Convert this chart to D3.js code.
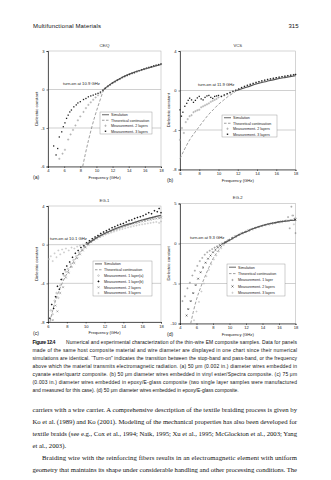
<!DOCTYPE html>
<html><head><meta charset="utf-8">
<script src="https://cdn.jsdelivr.net/npm/d3@7"></script>
<style>body{margin:0;background:#fff}svg{display:block}</style>
</head><body>
<svg id="page" width="331" height="480"></svg>
<script>
// ---------- DATA ----------
const panelTitles = ["CE/Q", "VCS", "EG-1", "EG-2"];
const panelLetters = ["(a)", "(b)", "(c)", "(d)"];
const turnOnLabels = ["turn-on at 10.9 GHz", "turn-on at 11.9 GHz", "turn-on at 10.1 GHz", "turn-on at 9.3 GHz"];
const xTicksA = [4, 6, 8, 10, 12, 14, 16, 18];
const yTicksA = [-6, -3, 0, 3];
const xTicksB = [6, 8, 10, 12, 14, 16, 18];
const yTicksB = [-8, -4, 0, 4];
const xTicksC = [6, 8, 10, 12, 14, 16, 18];
const yTicksC = [-8, -4, 0, 4];
const xTicksD = [4, 6, 8, 10, 12, 14, 16, 18];
const yTicksD = [-10, -5, 0, 5];
const legendAB = ["Simulation", "Theoretical continuation", "Measurement- 2 layers", "Measurement- 3 layers"];
const legendC = ["Simulation", "Theoretical continuation", "Measurement- 1 layer(a)", "Measurement- 1 layer(b)", "Measurement- 2 layers", "Measurement- 3 layers"];
const legendD = ["Simulation", "Theoretical continuation", "Measurement- 1 layer", "Measurement- 2 layers", "Measurement- 3 layers"];

// Panel (a) CE/Q  [frequency GHz, dielectric constant]
const simA = [[10.9,0],[11.5,0.3],[12,0.52],[13,0.88],[14,1.18],[15,1.42],[16,1.6],[17,1.78],[18,1.95]];
const theoA = [[8.3,-6],[8.6,-5.1],[9,-4.0],[9.4,-3.0],[9.8,-2.1],[10.2,-1.3],[10.6,-0.55],[10.9,0]];
const measA2 = [[5.4,-5.4],[5.8,-5.0],[6.1,-4.7],[6.5,-3.9],[6.8,-3.5],[7.1,-3.15],[7.4,-2.8],[7.7,-2.4],[8.0,-2.1],[8.4,-1.75],[8.7,-1.45],[9.0,-1.2],[9.3,-1.0],[9.6,-0.8],[9.9,-0.62],[10.2,-0.45],[10.5,-0.28],[10.8,-0.12],[11.1,0.08],[11.4,0.22],[11.7,0.36],[12.0,0.5],[12.3,0.6],[12.6,0.72],[12.9,0.82],[13.2,0.92],[13.5,1.0],[13.8,1.08],[14.1,1.16],[14.4,1.24],[14.7,1.3],[15.0,1.38],[15.3,1.45],[15.6,1.52],[15.9,1.58],[16.2,1.64],[16.5,1.7],[16.8,1.76],[17.1,1.82],[17.4,1.87],[17.7,1.92],[18.0,1.97]];
const measA3 = [[4.7,-4.4],[5.0,-5.1],[5.2,-4.6],[5.4,-3.7],[5.7,-3.3],[5.9,-2.9],[6.1,-2.6],[6.3,-2.25],[6.5,-2.0],[6.7,-1.75],[6.9,-1.6],[7.2,-1.35],[7.5,-1.2],[7.7,-1.05],[8.0,-0.95],[8.4,-0.78],[8.7,-0.7],[9.0,-0.57],[9.3,-0.5],[9.6,-0.44],[9.9,-0.36],[10.2,-0.3],[10.5,-0.2],[10.8,-0.05],[11.1,0.1],[11.4,0.25],[11.7,0.38],[12.0,0.52],[12.3,0.62],[12.6,0.74],[12.9,0.84],[13.2,0.94],[13.5,1.02],[13.8,1.1],[14.1,1.18],[14.4,1.26],[14.7,1.32],[15.0,1.4],[15.3,1.47],[15.6,1.54],[15.9,1.6],[16.2,1.66],[16.5,1.72],[16.8,1.78],[17.1,1.84],[17.4,1.89],[17.7,1.94],[18.0,1.99]];

// Panel (b) VCS
const simB = [[11.9,0],[12.5,0.2],[13,0.36],[14,0.68],[15,0.92],[16,1.15],[17,1.33],[18,1.5]];
const theoB = [[6,-6.9],[6.5,-5.9],[7,-5.0],[7.5,-4.3],[8,-3.65],[8.5,-3.0],[9,-2.4],[9.5,-1.9],[10,-1.4],[10.5,-1.0],[11,-0.6],[11.5,-0.28],[11.9,0]];
const measB2 = [[6.0,-5.0],[6.2,-3.8],[6.4,-4.3],[6.6,-3.2],[6.8,-2.9],[7.0,-2.6],[7.2,-2.5],[7.4,-2.2],[7.6,-2.1],[7.8,-2.0],[8.0,-1.95],[8.2,-1.7],[8.4,-1.6],[8.6,-1.5],[8.8,-1.4],[9.0,-1.3],[9.2,-1.15],[9.4,-1.05],[9.6,-0.95],[9.8,-0.85],[10.0,-0.7],[10.3,-0.6],[10.6,-0.5],[10.9,-0.38],[11.2,-0.25],[11.5,-0.12],[11.8,0.0],[12.1,0.12],[12.4,0.25],[12.7,0.36],[13.0,0.46],[13.3,0.56],[13.6,0.66],[13.9,0.75],[14.2,0.84],[14.5,0.92],[14.8,1.0],[15.1,1.07],[15.4,1.14],[15.7,1.2],[16.0,1.26],[16.3,1.32],[16.6,1.38],[16.9,1.43],[17.2,1.48],[17.5,1.53],[17.8,1.58],[18.0,1.62]];
const measB3 = [[6.0,-1.96],[6.15,-2.6],[6.3,-2.2],[6.5,-1.6],[6.7,-1.3],[6.85,-1.0],[7.0,-0.78],[7.2,-0.95],[7.4,-1.2],[7.6,-1.0],[7.8,-0.75],[8.0,-0.6],[8.2,-0.85],[8.4,-0.95],[8.6,-0.7],[8.8,-0.55],[9.0,-0.5],[9.2,-0.7],[9.4,-0.8],[9.6,-0.6],[9.8,-0.55],[10.0,-0.5],[10.3,-0.6],[10.6,-0.45],[10.9,-0.32],[11.2,-0.2],[11.5,-0.08],[11.8,0.03],[12.1,0.15],[12.4,0.3],[12.7,0.42],[13.0,0.53],[13.3,0.63],[13.6,0.72],[13.9,0.82],[14.2,0.9],[14.5,0.98],[14.8,1.05],[15.1,1.12],[15.4,1.18],[15.7,1.24],[16.0,1.3],[16.3,1.35],[16.6,1.4],[16.9,1.45],[17.2,1.5],[17.5,1.55],[17.8,1.59],[18.0,1.62]];

// Panel (c) EG-1
const simC = [[10.1,0],[10.5,0.3],[11,0.62],[12,1.15],[13,1.6],[14,1.95],[15,2.25],[16,2.55],[17,2.8],[18,3.05]];
const theoC = [[6.2,-8],[6.5,-6.8],[7,-5.2],[7.5,-4.0],[8,-3.0],[8.5,-2.1],[9,-1.35],[9.5,-0.7],[10.1,0]];
const measC1a = [[6.3,-6.8],[6.5,-7.2],[6.7,-5.8],[6.9,-5.0],[7.1,-5.5],[7.3,-4.2],[7.5,-3.6],[7.7,-3.2],[7.9,-2.8],[8.1,-2.5],[8.4,-2.0],[8.7,-1.6],[9.0,-1.2],[9.3,-0.8],[9.6,-0.5],[9.9,-0.2],[10.2,0.05],[10.5,0.3],[10.8,0.5],[11.1,0.7],[11.4,0.85],[11.7,1.0],[12.0,1.15],[12.3,1.3],[12.6,1.42],[12.9,1.55],[13.2,1.65],[13.5,1.78],[13.8,1.88],[14.1,1.98],[14.4,2.08],[14.7,2.18],[15.0,2.25],[15.3,2.35],[15.6,2.42],[15.9,2.5],[16.2,2.58],[16.5,2.65],[16.8,2.72],[17.1,2.78],[17.4,2.85],[17.7,2.9],[18.0,2.95]];
const measC1b = [[6.2,-7.6],[6.4,-6.2],[6.6,-6.6],[6.8,-5.4],[7.0,-4.3],[7.2,-4.6],[7.4,-3.6],[7.6,-3.0],[7.8,-2.6],[8.0,-2.2],[8.3,-1.8],[8.6,-1.3],[8.9,-0.9],[9.2,-0.6],[9.5,-0.3],[9.8,-0.1],[10.1,0.2],[10.4,0.4],[10.7,0.6],[11.0,0.8],[11.3,0.95],[11.6,1.15],[11.9,1.3],[12.2,1.45],[12.5,1.6],[12.8,1.75],[13.1,1.85],[13.4,2.0],[13.7,2.1],[14.0,2.2],[14.3,2.35],[14.6,2.5],[14.9,2.55],[15.2,2.7],[15.5,2.8],[15.8,2.9],[16.1,3.0],[16.4,3.15],[16.7,3.3],[17.0,3.2],[17.3,3.5],[17.6,3.4],[17.8,3.75],[18.0,3.3]];
const measC2 = [[6.5,-7.8],[6.8,-6.3],[7.0,-6.9],[7.3,-5.0],[7.6,-4.4],[7.9,-3.4],[8.2,-2.9],[8.5,-2.3],[8.8,-1.9],[9.1,-1.4],[9.4,-1.0],[9.7,-0.6],[10.0,-0.3],[10.3,0.0],[10.6,0.25],[10.9,0.45],[11.2,0.62],[11.5,0.8],[11.8,0.95],[12.1,1.1],[12.4,1.25],[12.7,1.38],[13.0,1.5],[13.3,1.62],[13.6,1.72],[13.9,1.82],[14.2,1.92],[14.5,2.0],[14.8,2.1],[15.1,2.18],[15.4,2.25],[15.7,2.32],[16.0,2.4],[16.3,2.46],[16.6,2.52],[16.9,2.58],[17.2,2.64],[17.5,2.7],[17.8,2.75],[18.0,2.8]];
const measC3 = [[6.1,-1.5],[6.3,-1.2],[6.5,-1.7],[6.7,-0.9],[6.9,-1.3],[7.1,-0.6],[7.3,-1.0],[7.5,-0.5],[7.7,-0.8],[7.9,-0.4],[8.2,-0.6],[8.5,-0.3],[8.8,-0.4],[9.1,-0.2],[9.4,-0.1],[9.7,0.0],[10.0,0.1],[10.3,0.25],[10.6,0.4],[10.9,0.55],[11.2,0.7],[11.5,0.82],[11.8,0.95],[12.1,1.05],[12.4,1.15],[12.7,1.25],[13.0,1.35],[13.3,1.45],[13.6,1.55],[13.9,1.62],[14.2,1.7],[14.5,1.78],[14.8,1.85],[15.1,1.92],[15.4,1.98],[15.7,2.05],[16.0,2.1],[16.3,2.15],[16.6,2.2],[16.9,2.25],[17.2,2.3],[17.5,2.35],[17.8,2.25],[18.0,2.4]];

// Panel (d) EG-2
const simD = [[9.3,0],[10,0.4],[11,1.0],[12,1.46],[13,1.9],[14,2.25],[15,2.5],[16,2.7],[17,2.82],[18,2.9]];
const theoD = [[5.3,-10],[5.6,-8.6],[6,-7.0],[6.5,-5.5],[7,-4.2],[7.5,-3.0],[8,-1.9],[8.5,-1.1],[9,-0.4],[9.3,0]];
const measD1 = [[4.3,-7.2],[4.6,-6.6],[4.9,-5.6],[5.2,-4.9],[5.5,-4.0],[5.8,-3.4],[6.1,-2.8],[6.4,-2.2],[6.7,-1.8],[7.0,-1.4],[7.3,-1.1],[7.6,-0.9],[7.9,-0.7],[8.2,-0.5],[8.5,-0.35],[8.8,-0.2],[9.1,-0.05],[9.4,0.1],[9.7,0.3],[10.0,0.5],[10.4,0.75],[10.8,0.95],[11.2,1.15],[11.6,1.35],[12.0,1.52],[12.4,1.7],[12.8,1.85],[13.2,2.0],[13.6,2.12],[14.0,2.25],[14.4,2.35],[14.8,2.45],[15.2,2.55],[15.6,2.62],[16.0,2.7],[16.4,2.78],[16.8,2.85],[17.1,3.3],[17.3,1.9],[17.5,4.6],[17.7,3.5],[17.9,3.1],[18.0,1.3]];
const measD2 = [[4.8,-9.0],[5.0,-8.2],[5.3,-7.2],[5.6,-6.2],[5.9,-5.2],[6.2,-4.4],[6.5,-3.6],[6.8,-3.0],[7.1,-2.4],[7.4,-1.9],[7.7,-1.5],[8.0,-1.1],[8.3,-0.8],[8.6,-0.5],[8.9,-0.25],[9.2,0.0],[9.5,0.2],[9.9,0.42],[10.3,0.65],[10.7,0.88],[11.1,1.08],[11.5,1.28],[11.9,1.45],[12.3,1.62],[12.7,1.78],[13.1,1.93],[13.5,2.06],[13.9,2.18],[14.3,2.3],[14.7,2.4],[15.1,2.5],[15.5,2.58],[15.9,2.66],[16.3,2.73],[16.7,2.8],[17.1,2.86],[17.5,2.92],[17.9,2.97],[18.0,3.0]];
const measD3 = [[5.7,-9.6],[6.0,-8.5],[6.3,-7.3],[6.6,-6.0],[6.9,-5.0],[7.2,-4.1],[7.5,-3.3],[7.8,-2.6],[8.1,-2.0],[8.4,-1.5],[8.7,-1.0],[9.0,-0.6],[9.3,-0.2],[9.6,0.1],[10.0,0.35],[10.4,0.6],[10.8,0.85],[11.2,1.05],[11.6,1.25],[12.0,1.42],[12.4,1.6],[12.8,1.76],[13.2,1.9],[13.6,2.03],[14.0,2.15],[14.4,2.27],[14.8,2.37],[15.2,2.47],[15.6,2.55],[16.0,2.63],[16.4,2.7],[16.8,2.77],[17.2,2.83],[17.6,3.5],[17.8,2.4],[18.0,3.2]];

// Page text
const headerLeft = "Multifunctional Materials";
const headerRight = "315";
const captionLabel = "Figure 12.4";
const captionLines = [
  "Numerical and experimental characterization of the thin-wire EM composite samples. Data for panels",
  "made of the same host composite material and wire diameter are displayed in one chart since their numerical",
  "simulations are identical. \u201CTurn-on\u201D indicates the transition between the stop-band and pass-band, or the frequency",
  "above which the material transmits electromagnetic radiation. (a) 50 \u03BCm (0.002 in.) diameter wires embedded in",
  "cyanate ester/quartz composite. (b) 50 \u03BCm diameter wires embedded in vinyl ester/Spectra composite. (c) 75 \u03BCm",
  "(0.003 in.) diameter wires embedded in epoxy/E-glass composite (two single layer samples were manufactured",
  "and measured for this case). (d) 50 \u03BCm diameter wires embedded in epoxy/E-glass composite."
];
const bodyLines = [
  "carriers with a wire carrier. A comprehensive description of the textile braiding process is given by",
  "Ko et al. (1989) and Ko (2001). Modeling of the mechanical properties has also been developed for",
  "textile braids (see e.g., Cox et al., 1994; Naik, 1995; Xu et al., 1995; McGlockton et al., 2003; Yang",
  "et al., 2003).",
  "Braiding wire with the reinforcing fibers results in an electromagnetic element with uniform",
  "geometry that maintains its shape under considerable handling and other processing conditions. The"
];

// ---------- DRAWING ----------
const svg = d3.select("#page");
const SANS = "'Liberation Sans', Arial, sans-serif";
const SERIF = "'Liberation Serif', 'Times New Roman', serif";

function markerPath(type, s) {
  if (type === "plus") return `M${-s},0H${s}M0,${-s}V${s}`;
  if (type === "x") return `M${-s},${-s}L${s},${s}M${-s},${s}L${s},${-s}`;
  return null;
}
function drawMarker(g, type, cx, cy, color, s) {
  if (type === "plus" || type === "x") {
    g.append("path").attr("transform", `translate(${cx},${cy})`).attr("d", markerPath(type, s))
      .attr("stroke", color).attr("stroke-width", 0.55).attr("fill", "none");
  } else if (type === "dot") {
    g.append("rect").attr("x", cx - s * 0.65).attr("y", cy - s * 0.65).attr("width", s * 1.3).attr("height", s * 1.3).attr("fill", color);
  } else if (type === "circle") {
    g.append("circle").attr("cx", cx).attr("cy", cy).attr("r", s * 0.75).attr("fill", "none").attr("stroke", color).attr("stroke-width", 0.4);
  } else if (type === "diamond") {
    g.append("path").attr("transform", `translate(${cx},${cy})`).attr("d", `M0,${-s}L${s},0L0,${s}L${-s},0Z`).attr("fill", color);
  }
}

function panel(cfg) {
  const g = svg.append("g");
  const x = d3.scaleLinear().domain(cfg.xDom).range([cfg.left, cfg.right]);
  const y = d3.scaleLinear().domain(cfg.yDom).range([cfg.bottom, cfg.top]);
  g.append("rect").attr("x", cfg.left).attr("y", cfg.top).attr("width", cfg.right - cfg.left)
    .attr("height", cfg.bottom - cfg.top).attr("fill", "none").attr("stroke", "#aaa").attr("stroke-width", 0.5);
  g.selectAll("line.grid").data(cfg.yTicks.filter(v => v > cfg.yDom[0] && v < cfg.yDom[1])).join("line")
    .attr("x1", cfg.left).attr("x2", cfg.right).attr("y1", d => y(d)).attr("y2", d => y(d))
    .attr("stroke", "#b0b0b0").attr("stroke-width", 0.6);
  const ya = g.append("g").attr("transform", `translate(${cfg.left},0)`)
    .call(d3.axisLeft(y).tickValues(cfg.yTicks).tickSize(1.5).tickPadding(2).tickFormat(d => String(d)));
  const xa = g.append("g").attr("transform", `translate(0,${cfg.bottom})`)
    .call(d3.axisBottom(x).tickValues(cfg.xTicks).tickSize(1.5).tickPadding(1.5).tickFormat(d => String(d)));
  [ya, xa].forEach(a => {
    a.select(".domain").attr("stroke", "#000").attr("stroke-width", 0.6);
    a.selectAll(".tick line").attr("stroke", "#000").attr("stroke-width", 0.5);
    a.selectAll("text").attr("font-family", SANS).attr("font-size", 4.1).attr("fill", "#222");
  });
  g.append("text").attr("x", (cfg.left + cfg.right) / 2).attr("y", cfg.top - 4.5).attr("text-anchor", "middle")
    .attr("font-family", SANS).attr("font-size", 4.2).attr("fill", "#333").text(cfg.title);
  g.append("text").attr("x", (cfg.left + cfg.right) / 2).attr("y", cfg.bottom + 12).attr("text-anchor", "middle")
    .attr("font-family", SANS).attr("font-size", 4.2).attr("fill", "#222").text("Frequency (GHz)");
  g.append("text").attr("transform", `translate(${cfg.left - 10},${(cfg.top + cfg.bottom) / 2}) rotate(-90)`)
    .attr("text-anchor", "middle").attr("font-family", SANS).attr("font-size", 4.2).attr("fill", "#222").text("Dielectric constant");
  g.append("text").attr("x", cfg.letterX).attr("y", cfg.bottom + 12.5)
    .attr("font-family", SANS).attr("font-size", 5.2).attr("fill", "#222").text(cfg.letter);
  g.append("text").attr("x", cfg.turnX).attr("y", y(0) - 4.5)
    .attr("font-family", SANS).attr("font-size", 4.2).attr("fill", "#222").text(cfg.turnOn);

  const line = d3.line().x(d => x(d[0])).y(d => y(d[1])).curve(d3.curveMonotoneX);
  const plot = g.append("g");
  plot.append("path").attr("d", line(cfg.theo)).attr("fill", "none").attr("stroke", "#888")
    .attr("stroke-width", 0.8).attr("stroke-dasharray", "3,1.8");
  cfg.meas.forEach(m => {
    const mg = plot.append("g");
    m.data.forEach(d => drawMarker(mg, m.type, x(d[0]), y(d[1]), m.color, m.size));
  });
  plot.append("path").attr("d", line(cfg.sim)).attr("fill", "none").attr("stroke", "#555").attr("stroke-width", 1.1);

  const L = cfg.legend;
  const lg = g.append("g");
  lg.append("rect").attr("x", L.x).attr("y", L.y).attr("width", L.w).attr("height", L.h)
    .attr("fill", "#fff").attr("stroke", "#888").attr("stroke-width", 0.4);
  const rowH = L.h / cfg.legendLabels.length;
  cfg.legendLabels.forEach((lab, i) => {
    const cy = L.y + rowH * (i + 0.5);
    const sx = L.x + 2, ex = L.x + 9;
    if (i === 0) {
      lg.append("line").attr("x1", sx).attr("x2", ex).attr("y1", cy).attr("y2", cy).attr("stroke", "#555").attr("stroke-width", 0.9);
    } else if (i === 1) {
      lg.append("line").attr("x1", sx).attr("x2", ex).attr("y1", cy).attr("y2", cy).attr("stroke", "#888")
        .attr("stroke-width", 0.8).attr("stroke-dasharray", "2.5,1.5");
    } else {
      const m = cfg.meas[i - 2];
      drawMarker(lg, m.type, (sx + ex) / 2, cy, m.color, m.size * 1.1);
    }
    lg.append("text").attr("x", L.x + 11).attr("y", cy + 1.3).attr("font-family", SANS)
      .attr("font-size", 3.6).attr("fill", "#222").text(lab);
  });
}

panel({ left: 48, right: 161, top: 51, bottom: 166.5, xDom: [4, 18], yDom: [-6, 3], xTicks: xTicksA, yTicks: yTicksA,
  title: panelTitles[0], letter: panelLetters[0], letterX: 33, turnOn: turnOnLabels[0], turnX: 63,
  sim: simA, theo: theoA,
  meas: [{ data: measA2, type: "plus", color: "#9a9a9a", size: 1.1 }, { data: measA3, type: "dot", color: "#222", size: 1.0 }],
  legendLabels: legendAB, legend: { x: 100, y: 112, w: 52, h: 22 } });

panel({ left: 180, right: 295.5, top: 51, bottom: 169.5, xDom: [6, 18], yDom: [-8, 4], xTicks: xTicksB, yTicks: yTicksB,
  title: panelTitles[1], letter: panelLetters[1], letterX: 167, turnOn: turnOnLabels[1], turnX: 198,
  sim: simB, theo: theoB,
  meas: [{ data: measB2, type: "plus", color: "#9a9a9a", size: 1.1 }, { data: measB3, type: "dot", color: "#222", size: 1.0 }],
  legendLabels: legendAB, legend: { x: 222, y: 115, w: 55, h: 22 } });

panel({ left: 48, right: 161, top: 206, bottom: 322, xDom: [6, 18], yDom: [-8, 4], xTicks: xTicksC, yTicks: yTicksC,
  title: panelTitles[2], letter: panelLetters[2], letterX: 33, turnOn: turnOnLabels[2], turnX: 50,
  sim: simC, theo: theoC,
  meas: [{ data: measC1a, type: "circle", color: "#888", size: 1.0 }, { data: measC1b, type: "diamond", color: "#111", size: 1.0 },
         { data: measC2, type: "x", color: "#777", size: 0.9 }, { data: measC3, type: "plus", color: "#bbb", size: 1.0 }],
  legendLabels: legendC, legend: { x: 93, y: 261, w: 59, h: 35 } });

panel({ left: 180, right: 295.5, top: 203.5, bottom: 323.5, xDom: [4, 18], yDom: [-10, 5], xTicks: xTicksD, yTicks: yTicksD,
  title: panelTitles[3], letter: panelLetters[3], letterX: 167, turnOn: turnOnLabels[3], turnX: 190,
  sim: simD, theo: theoD,
  meas: [{ data: measD1, type: "plus", color: "#888", size: 1.0 }, { data: measD2, type: "x", color: "#222", size: 0.9 },
         { data: measD3, type: "plus", color: "#bbb", size: 1.0 }],
  legendLabels: legendD, legend: { x: 227, y: 264, w: 58, h: 32 } });

// ---------- PAGE TEXT ----------
svg.append("text").attr("x", 33).attr("y", 27.5).attr("font-family", SANS).attr("font-size", 6)
  .attr("textLength", 68).attr("lengthAdjust", "spacing").attr("fill", "#111").text(headerLeft);
svg.append("text").attr("x", 298.5).attr("y", 27.5).attr("text-anchor", "end").attr("font-family", SANS)
  .attr("font-size", 6).attr("fill", "#111").text(headerRight);

svg.append("text").attr("x", 32.5).attr("y", 344).attr("font-family", SANS).attr("font-size", 5.2)
  .attr("font-weight", "bold").attr("textLength", 23).attr("lengthAdjust", "spacing").attr("fill", "#111").text(captionLabel);
captionLines.forEach((t, i) => {
  const x0 = i === 0 ? 66 : 32.5;
  const el = svg.append("text").attr("x", x0).attr("y", 344 + i * 8).attr("font-family", SANS)
    .attr("font-size", 4.95).attr("fill", "#111").text(t);
  if (i < captionLines.length - 1) el.attr("textLength", 297 - x0).attr("lengthAdjust", "spacing");
});
bodyLines.forEach((t, i) => {
  const x0 = i === 4 ? 42 : 32.5;
  const el = svg.append("text").attr("x", x0).attr("y", 411.5 + i * 12).attr("font-family", SERIF)
    .attr("font-size", 6.7).attr("fill", "#111").text(t);
  if (i !== 3) el.attr("textLength", 297 - x0).attr("lengthAdjust", "spacing");
});
</script>
</body></html>
